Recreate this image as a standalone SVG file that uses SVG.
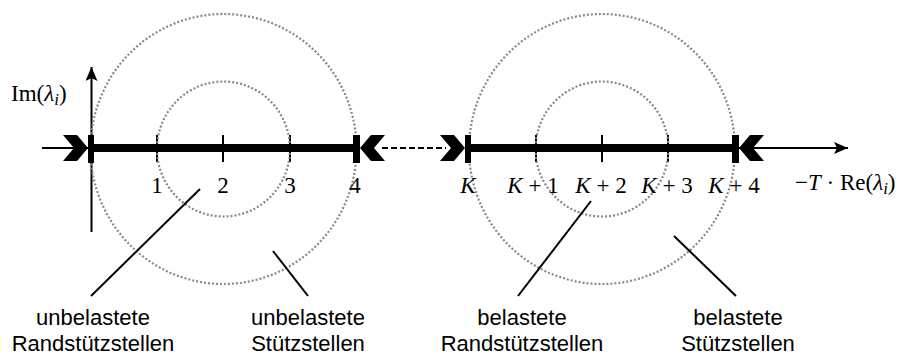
<svg xmlns="http://www.w3.org/2000/svg" width="906" height="356" viewBox="0 0 906 356">
<style>
.axis{stroke:#000;stroke-width:2;fill:none}
.thick{stroke:#000;stroke-width:8;fill:none}
.tick{stroke:#000;stroke-width:2}
.dot{fill:none;stroke:#888;stroke-width:2.2;stroke-dasharray:2 2}
.lead{stroke:#000;stroke-width:2}
.math{font-family:"Liberation Serif","DejaVu Serif",serif;font-size:23px;fill:#000}
.it{font-style:italic}
.lab{font-family:"Liberation Sans",Arial,sans-serif;font-size:22px;fill:#000;text-anchor:middle}
</style>
<defs>
<marker id="ah" markerUnits="userSpaceOnUse" markerWidth="16" markerHeight="14" refX="14" refY="6" orient="auto">
<path d="M0,0 L14,6 L0,12 L3,6 Z" fill="#000"/>
</marker>
<path id="chev" d="M-25,-13 L-11,-13 L0,0 L-11,13 L-25,13 L-14,0 Z" fill="#000"/>
</defs>
<g id="axes">
<line class="axis" x1="42" y1="148" x2="90" y2="148"/>
<line class="axis" x1="736" y1="148" x2="848" y2="148" marker-end="url(#ah)"/>
<line class="axis" x1="91.5" y1="232" x2="91.5" y2="67" marker-end="url(#ah)"/>
</g>
<g id="ticks">
<line class="tick" x1="157" y1="135" x2="157" y2="162"/>
<line class="tick" x1="223" y1="135" x2="223" y2="162"/>
<line class="tick" x1="290" y1="135" x2="290" y2="162"/>
<line class="tick" x1="536" y1="135" x2="536" y2="162"/>
<line class="tick" x1="602" y1="135" x2="602" y2="162"/>
<line class="tick" x1="668" y1="135" x2="668" y2="162"/>
</g>
<g id="circles">
<ellipse class="dot" cx="223.5" cy="149" rx="66.5" ry="67.5"/>
<ellipse class="dot" cx="223.5" cy="149" rx="133" ry="135"/>
<ellipse class="dot" cx="602" cy="149" rx="66.5" ry="67.5"/>
<ellipse class="dot" cx="602" cy="149" rx="133" ry="135"/>
</g>
<g id="connectors">
<line class="thick" x1="91" y1="148" x2="357" y2="148"/>
<line class="thick" x1="468" y1="148" x2="736" y2="148"/>
<line x1="382" y1="148" x2="446" y2="148" stroke="#000" stroke-width="2" stroke-dasharray="6 3"/>
<line class="lead" x1="200" y1="189" x2="91" y2="296"/>
<line class="lead" x1="273" y1="251" x2="308" y2="296"/>
<line class="lead" x1="591" y1="201" x2="518" y2="296"/>
<line class="lead" x1="674" y1="236" x2="736" y2="296"/>
</g>
<g id="marker-0">
<rect x="88" y="135" width="6" height="28" fill="#000"/>
<use href="#chev" transform="translate(88,148)"/>
</g>
<g id="marker-4">
<rect x="353" y="135" width="7" height="28" fill="#000"/>
<use href="#chev" transform="translate(360,148) scale(-1,1)"/>
</g>
<g id="marker-K">
<rect x="465" y="135" width="6" height="28" fill="#000"/>
<use href="#chev" transform="translate(465,148)"/>
</g>
<g id="marker-K4">
<rect x="732" y="135" width="7" height="28" fill="#000"/>
<use href="#chev" transform="translate(739,148) scale(-1,1)"/>
</g>
<g id="axis-labels">
<text class="math" x="11" y="101" font-size="24">Im(<tspan class="it">λ</tspan><tspan class="it" font-size="17" dy="4">i</tspan><tspan dy="-4">)</tspan></text>
<text class="math" x="795" y="190" font-size="24">−<tspan class="it">T</tspan> · Re(<tspan class="it">λ</tspan><tspan class="it" font-size="17" dy="4">i</tspan><tspan dy="-4">)</tspan></text>
</g>
<g id="tick-labels" text-anchor="middle">
<text class="math" x="157" y="193">1</text>
<text class="math" x="223" y="193">2</text>
<text class="math" x="290" y="193">3</text>
<text class="math" x="355" y="193">4</text>
<text class="math it" x="468" y="193">K</text>
<text class="math" x="533" y="193"><tspan class="it">K</tspan> + 1</text>
<text class="math" x="601" y="193"><tspan class="it">K</tspan> + 2</text>
<text class="math" x="667" y="193"><tspan class="it">K</tspan> + 3</text>
<text class="math" x="734" y="193"><tspan class="it">K</tspan> + 4</text>
</g>
<g id="label-unbelastete-rand">
<text class="lab" x="93" y="325">unbelastete</text>
<text class="lab" x="93" y="351">Randstützstellen</text>
</g>
<g id="label-unbelastete">
<text class="lab" x="308" y="325">unbelastete</text>
<text class="lab" x="308" y="351">Stützstellen</text>
</g>
<g id="label-belastete-rand">
<text class="lab" x="522" y="325">belastete</text>
<text class="lab" x="522" y="351">Randstützstellen</text>
</g>
<g id="label-belastete">
<text class="lab" x="738" y="325">belastete</text>
<text class="lab" x="738" y="351">Stützstellen</text>
</g>
</svg>
